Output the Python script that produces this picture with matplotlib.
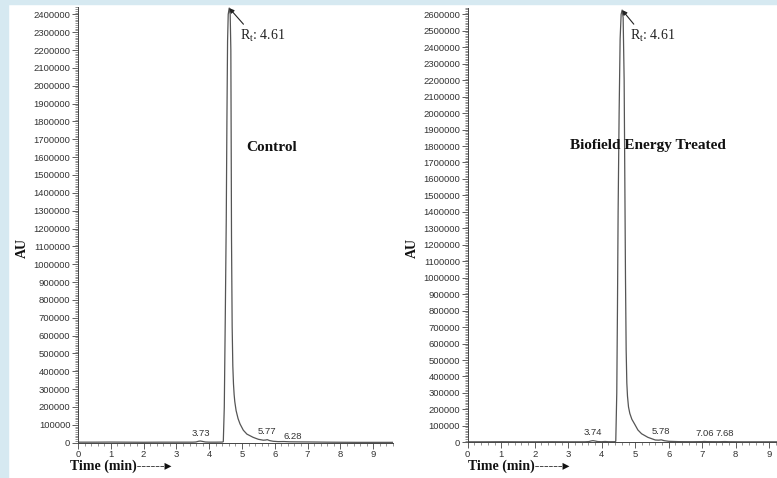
import matplotlib
matplotlib.use("Agg")
import matplotlib.pyplot as plt
from matplotlib.ticker import MultipleLocator, FuncFormatter
from matplotlib.patches import Rectangle

# Control chromatogram (time in min, AU)
ctrl_t = [0.0, 0.5, 1.0, 1.5, 2.0, 2.5, 3.0, 3.5, 3.60, 3.67, 3.73, 3.80, 3.88, 4.0, 4.2, 4.40,
          4.43, 4.46, 4.49, 4.52, 4.54, 4.56, 4.58, 4.61, 4.64, 4.66, 4.67, 4.68, 4.70, 4.72,
          4.74, 4.76, 4.78, 4.82, 4.88, 4.94, 5.04, 5.15, 5.34, 5.50, 5.65, 5.72, 5.77, 5.84,
          5.95, 6.10, 6.28, 6.45, 6.70, 7.10, 7.60, 8.00, 8.50, 9.00, 9.60]
ctrl_au = [3000, 3000, 3500, 3000, 2500, 3000, 3000, 3000, 4000, 8000, 9500, 7000, 4000, 3000, 3000, 3500,
           6000, 200000, 700000, 1250000, 1800000, 2250000, 2400000, 2435000, 2400000, 2200000, 1700000, 1150000, 650000, 430000,
           330000, 270000, 230000, 180000, 135000, 105000, 70000, 48000, 30000, 19000, 14000, 15000, 17000, 12000,
           8000, 6000, 6500, 5000, 4500, 4000, 3000, 2500, 2000, 2000, 2000]
ctrl_peaks = [3.73, 5.77, 6.28]

# Biofield Energy Treated chromatogram
trt_t = [0.0, 0.5, 1.0, 1.5, 2.0, 2.5, 3.0, 3.5, 3.62, 3.68, 3.74, 3.80, 3.88, 4.0, 4.1, 4.2, 4.39,
         4.42, 4.45, 4.47, 4.49, 4.52, 4.55, 4.58, 4.61, 4.64, 4.67, 4.69, 4.71, 4.73, 4.75,
         4.77, 4.80, 4.84, 4.90, 4.99, 5.08, 5.19, 5.38, 5.60, 5.70, 5.78, 5.86, 6.00, 6.30,
         6.70, 7.00, 7.06, 7.15, 7.50, 7.68, 7.80, 8.20, 8.70, 9.25]
trt_au = [3000, 3000, 3500, 3000, 3000, 3500, 3000, 3000, 4500, 8000, 10000, 8000, 4500, 3500, 5000, 3500, 3500,
          6000, 300000, 800000, 1400000, 2000000, 2450000, 2600000, 2626000, 2580000, 2200000, 1600000, 1000000, 560000, 360000,
          280000, 215000, 175000, 140000, 108000, 75000, 52000, 30000, 14000, 13000, 15000, 10000, 6000, 4000,
          3500, 4000, 5000, 4000, 3500, 4500, 3500, 3000, 3000, 3000]
trt_peaks = [3.74, 5.78, 7.06, 7.68]

rt_main = 4.61

W, H = 777, 478
fig = plt.figure(figsize=(W / 100, H / 100), dpi=100)
fig.patch.set_facecolor("white")
band = "#d6e9f1"
fig.patches.append(Rectangle((0, 0), 8 / W, 1, transform=fig.transFigure, color=band, zorder=0))
fig.patches.append(Rectangle((0, 1 - 4 / H), 1, 4 / H, transform=fig.transFigure, color=band, zorder=0))

serif = ["Liberation Serif", "DejaVu Serif"]
sans = "Liberation Sans"
line_col = "#555555"
tick_col = "#444444"


def make_axes(left_px, width_px, zero_px, top_px):
    return fig.add_axes([left_px / W, (H - zero_px) / H, width_px / W, (zero_px - top_px) / H])


def style(ax, xmax, ymax):
    ax.set_xlim(0, xmax)
    ax.set_ylim(0, ymax)
    for s in ("top", "right"):
        ax.spines[s].set_visible(False)
    for s in ("left", "bottom"):
        ax.spines[s].set_color(tick_col)
        ax.spines[s].set_linewidth(0.7)
    ax.xaxis.set_major_locator(MultipleLocator(1))
    ax.xaxis.set_minor_locator(MultipleLocator(0.2))
    ax.yaxis.set_major_locator(MultipleLocator(100000))
    ax.yaxis.set_minor_locator(MultipleLocator(10000))
    ax.xaxis.set_major_formatter(FuncFormatter(lambda v, p: "%d" % v))
    ax.yaxis.set_major_formatter(FuncFormatter(lambda v, p: "%d" % v))
    ax.tick_params(which="major", length=4, width=0.6, color=tick_col, labelsize=6.8,
                   labelcolor="#333333", pad=1.5)
    ax.tick_params(which="minor", length=2.2, width=0.4, color=tick_col)
    for lab in ax.get_xticklabels() + ax.get_yticklabels():
        lab.set_family(sans)
    ax.set_facecolor("none")


def draw(ax, t, au, peaks, title, title_xy, rt_text_xy, peak_top):
    ax.plot(t, au, color=line_col, lw=0.9)
    for p in peaks:
        # label each minor peak just above the trace
        i = min(range(len(t)), key=lambda k: abs(t[k] - p))
        if p == 6.28:
            ha, yoff = "left", 0.5
        else:
            ha, yoff = "center", 2.5
        ax.annotate("%.2f" % p, xy=(p, au[i]), xytext=(0, yoff), textcoords="offset points",
                    ha=ha, va="bottom", fontsize=6.8, family=sans, color="#333333")
    ax.annotate(r"$\mathregular{R_t}$: 4.61", xy=(rt_main, peak_top), xytext=rt_text_xy,
                ha="left", va="center", fontsize=10, family=serif, color="#222222",
                arrowprops=dict(arrowstyle="-|>", color="#222222", lw=0.8,
                                mutation_scale=7, shrinkA=1, shrinkB=0, relpos=(0.15, 1.0)))
    ax.text(title_xy[0], title_xy[1], title, ha="center", va="center", fontsize=11,
            fontweight="bold", family=serif, color="#111111")


# left panel: axis at x=78px, zero at y=442.7px, 17.85 px per 100000
ax1 = make_axes(78, 315, 442.7, 442.7 - 2440000 / 100000 * 17.85)
style(ax1, 315 / 32.8, 2440000)
draw(ax1, ctrl_t, ctrl_au, ctrl_peaks, "Control", (5.9, 1656000), (4.94, 2278000), 2435000)

# right panel: axis at x=467.7px, zero at y=442.3px, 16.46 px per 100000
ax2 = make_axes(467.7, W - 467.7, 442.3, 442.3 - 2640000 / 100000 * 16.46)
style(ax2, (W - 467.7) / 33.5, 2640000)
draw(ax2, trt_t, trt_au, trt_peaks, "Biofield Energy Treated", (5.38, 1806000), (4.85, 2468000), 2626000)

for x_px in (22, 412):
    fig.text(x_px / W, 1 - 248 / H, "AU", rotation=90, ha="center", va="center", fontsize=10,
             fontweight="bold", family=serif, color="#111111")

for x_px in (70, 468):
    fig.text(x_px / W, 1 - 466 / H, "Time (min)------\u25b8", ha="left", va="center", fontsize=10,
             fontweight="bold", family=["Liberation Serif", "DejaVu Sans"], color="#111111")

fig.savefig("out.png", dpi=100)
